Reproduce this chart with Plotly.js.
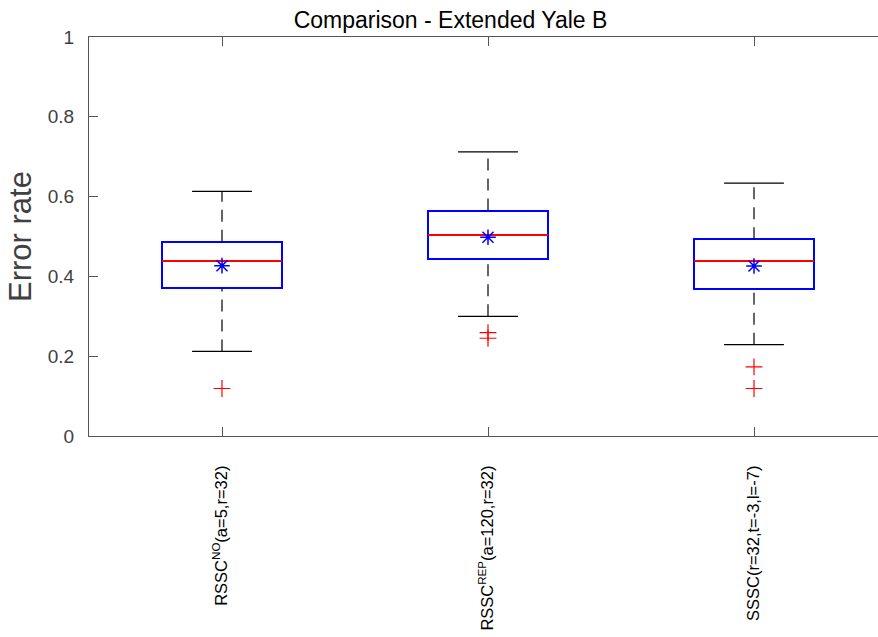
<!DOCTYPE html>
<html>
<head>
<meta charset="utf-8">
<script src="https://cdn.plot.ly/plotly-3.0.1.min.js"></script>
<style>
  html, body { margin: 0; padding: 0; overflow: hidden; background: #fff; }
  #chart { width: 887px; height: 637px; }
  /* keep box outlines pixel-aligned so the red median fully covers the blue one */
  #chart .boxlayer path { shape-rendering: crispEdges; }
</style>
</head>
<body>
<div id="chart"></div>
<script>
// Box statistics for each method (error rates)
const methods = [
  'RSSC<sup>NO</sup>(a=5,r=32)',
  'RSSC<sup>REP</sup>(a=120,r=32)',
  'SSSC(r=32,t=-3,l=-7)'
];
const positions   = [1, 2, 3];
const upperFence  = [0.613, 0.712, 0.634];
const q3          = [0.487, 0.565, 0.493];
const medians     = [0.438, 0.505, 0.438];
const means       = [0.427, 0.498, 0.426];
const q1          = [0.370, 0.443, 0.368];
const lowerFence  = [0.212, 0.300, 0.229];
const outliers    = [[0.119], [0.259, 0.245], [0.173, 0.119]];

const BOX_W = 0.45;   // box width in category units
const CAP_W = 0.225;  // whisker cap width

const traces = [];

// Blue interquartile boxes (whiskers are drawn separately)
traces.push({
  type: 'box',
  x: positions,
  q1: q1, median: medians, q3: q3,
  lowerfence: q1, upperfence: q3,
  width: BOX_W,
  whiskerwidth: 0,
  fillcolor: 'rgba(0,0,0,0)',
  line: { color: '#0000ff', width: 2 },
  boxpoints: false,
  hoverinfo: 'skip',
  showlegend: false
});

// Red median lines: a flat box collapsed onto each median
traces.push({
  type: 'box',
  x: positions,
  q1: medians, median: medians, q3: medians,
  lowerfence: medians, upperfence: medians,
  width: BOX_W,
  whiskerwidth: 0,
  fillcolor: 'rgba(0,0,0,0)',
  line: { color: '#ff0000', width: 2 },
  boxpoints: false,
  hoverinfo: 'skip',
  showlegend: false
});

// Dashed whiskers: upper drawn from Q3 up, lower from lower fence up to Q1
const wx = [], wy = [];
positions.forEach((p, i) => {
  wx.push(p, p, null, p, p, null);
  wy.push(q3[i], upperFence[i], null, lowerFence[i], q1[i], null);
});
traces.push({
  type: 'scatter', mode: 'lines', x: wx, y: wy,
  line: { color: '#000000', width: 1.2, dash: '12px,8px' },
  hoverinfo: 'skip', showlegend: false
});

// Whisker caps
const cx = [], cy = [];
positions.forEach((p, i) => {
  cx.push(p - CAP_W / 2, p + CAP_W / 2, null, p - CAP_W / 2, p + CAP_W / 2, null);
  cy.push(upperFence[i], upperFence[i], null, lowerFence[i], lowerFence[i], null);
});
traces.push({
  type: 'scatter', mode: 'lines', x: cx, y: cy,
  line: { color: '#000000', width: 1.2 },
  hoverinfo: 'skip', showlegend: false
});

// Outliers
const ox = [], oy = [];
positions.forEach((p, i) => {
  outliers[i].forEach(v => { ox.push(p); oy.push(v); });
});
traces.push({
  type: 'scatter', mode: 'markers', x: ox, y: oy,
  marker: { symbol: 'cross-thin-open', size: 12, color: '#ff0000', line: { color: '#ff0000', width: 1.2 } },
  hoverinfo: 'skip', showlegend: false
});

// Means
traces.push({
  type: 'scatter', mode: 'markers', x: positions, y: means,
  marker: { symbol: 'asterisk-open', size: 13, color: '#0000ff', line: { color: '#0000ff', width: 1.5 } },
  hoverinfo: 'skip', showlegend: false
});

const axisColor = '#555555';
const layout = {
  width: 887, height: 637,
  margin: { l: 89, r: 0, t: 37, b: 201, pad: 0 },
  paper_bgcolor: '#ffffff', plot_bgcolor: '#ffffff',
  font: { family: 'Liberation Sans, Arial, sans-serif', color: '#000' },
  boxmode: 'overlay',
  title: {
    text: 'Comparison - Extended Yale B',
    font: { size: 23, color: '#000' },
    xref: 'paper', x: 0.453, xanchor: 'center',
    yref: 'container', y: 0.969, yanchor: 'middle'
  },
  xaxis: {
    range: [0.5, 3.5],
    tickmode: 'array', tickvals: positions, ticktext: methods,
    tickangle: -90,
    ticks: 'inside', ticklen: 9, tickwidth: 1, tickcolor: axisColor,
    showline: true, linecolor: axisColor, linewidth: 1, mirror: 'ticks',
    showgrid: false, zeroline: false,
    tickfont: { size: 16.5, color: '#000' },
    ticklabelstandoff: 22
  },
  yaxis: {
    range: [0, 1], tickmode: 'linear', tick0: 0, dtick: 0.2,
    ticks: 'inside', ticklen: 9, tickwidth: 1, tickcolor: axisColor,
    showline: true, linecolor: axisColor, linewidth: 1, mirror: 'ticks',
    showgrid: false, zeroline: false,
    tickfont: { size: 19, color: '#404040' },
    ticklabelstandoff: 10,
    title: { text: 'Error rate', font: { size: 31, color: '#404040' }, standoff: 6 }
  }
};

Plotly.newPlot('chart', traces, layout, { staticPlot: true, responsive: false, displayModeBar: false });
</script>
</body>
</html>
